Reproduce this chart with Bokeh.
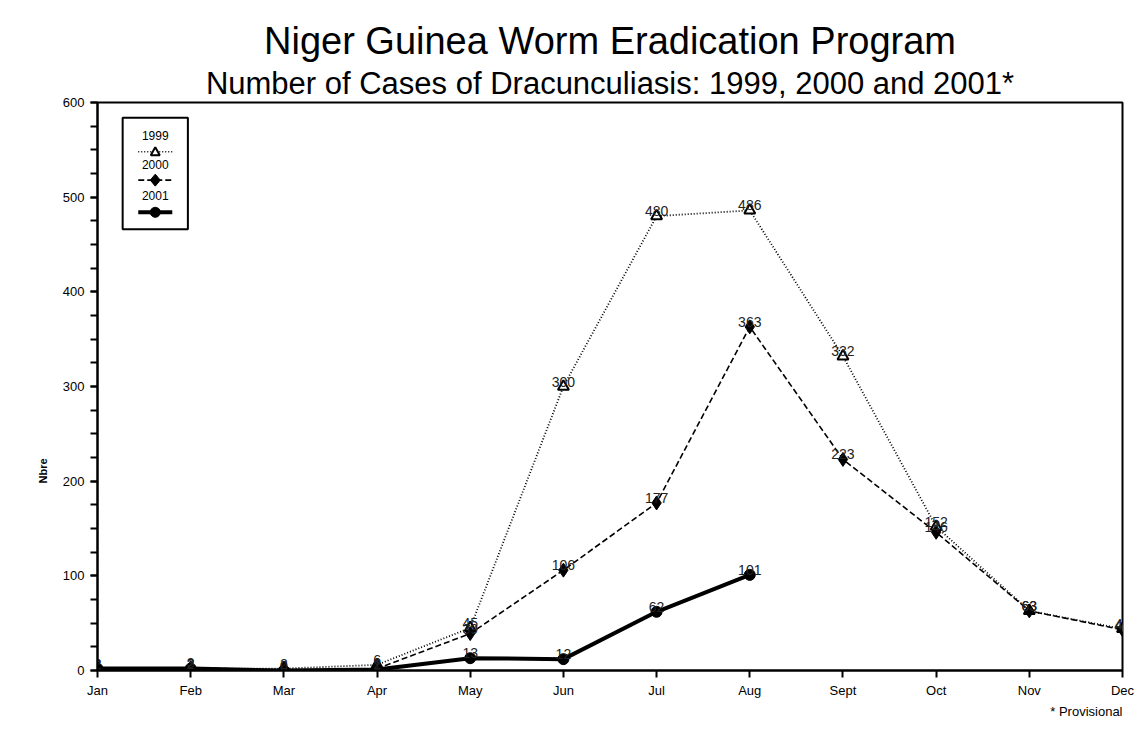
import math
from bokeh.plotting import figure
from bokeh.models import (Range1d, FixedTicker, SingleIntervalTicker, Title, Label,
                          BoxAnnotation, Arrow, PolyAnnotation)
from bokeh.core.properties import value
from bokeh.embed import file_html
from bokeh.resources import INLINE

months = ["Jan", "Feb", "Mar", "Apr", "May", "Jun", "Jul", "Aug", "Sept", "Oct", "Nov", "Dec"]
cases_1999 = [2, 2, 2, 6, 45, 300, 480, 486, 332, 152, 63, 44]
cases_2000 = [2, 3, 0, 2, 39, 106, 177, 363, 223, 146, 63, 43]
cases_2001 = [2, 2, 0, 1, 13, 12, 62, 101]
y_ticks = [0, 100, 200, 300, 400, 500, 600]

FONT = "Liberation Sans"
xs = list(range(len(months)))

p = figure(width=1136, height=720, output_backend="svg", toolbar_location=None,
           x_range=Range1d(0, len(months) - 1), y_range=Range1d(0, 600),
           min_border_left=97, min_border_right=14, min_border_top=102, min_border_bottom=50)
p.title = None
p.grid.visible = False
p.background_fill_color = "white"
p.outline_line_color = "black"
p.outline_line_width = 2

# axes
p.xaxis.ticker = FixedTicker(ticks=xs)
p.xaxis.major_label_overrides = {i: m for i, m in enumerate(months)}
p.xaxis.minor_tick_line_color = None
p.yaxis.ticker = SingleIntervalTicker(interval=100, num_minor_ticks=4)
for ax in (p.xaxis, p.yaxis):
    ax.axis_line_color = "black"
    ax.axis_line_width = 2
    ax.major_tick_line_width = 2
    ax.major_tick_out = 7
    ax.major_tick_in = 0
    ax.major_label_text_font = FONT
    ax.major_label_text_font_size = "13px"
    ax.major_label_text_color = "black"
p.yaxis.minor_tick_line_width = 2
p.yaxis.minor_tick_out = 7
p.yaxis.minor_tick_in = 0
p.xaxis.major_label_standoff = 5
p.yaxis.major_label_standoff = 6

# y-axis title, placed lower than centre as in the original
p.add_layout(Title(text="Nbre", align="left", offset=187, text_font=FONT, text_font_size="11px",
                   text_font_style="bold", text_color="black", standoff=22), "left")

# titles
p.add_layout(Title(text="Number of Cases of Dracunculiasis: 1999, 2000 and 2001*", align="center",
                   text_font=FONT, text_font_size="31px", text_font_style="normal",
                   text_color="black", standoff=4), "above")
p.add_layout(Title(text="Niger Guinea Worm Eradication Program", align="center",
                   text_font=FONT, text_font_size="38px", text_font_style="normal",
                   text_color="black", standoff=0), "above")
p.add_layout(Title(text="* Provisional", align="right", text_font=FONT, text_font_size="13px",
                   text_font_style="normal", text_color="black", standoff=2), "below")

# series
x01 = xs[:len(cases_2001)]
p.line(xs, cases_1999, line_color="black", line_width=1.8, line_dash="1 2")
p.line(xs, cases_2000, line_color="black", line_width=1.6, line_dash="6 3")
p.line(x01, cases_2001, line_color="black", line_width=4)

p.scatter(xs, cases_1999, marker="triangle", size=11, fill_color="white",
          line_color="black", line_width=2)
p.scatter(xs, cases_2000, marker="diamond", size=14, fill_color="black", line_color="black")
p.scatter(x01, cases_2001, marker="circle", size=11, fill_color="black", line_color="black")

for xv, yv in ((xs, cases_1999), (xs, cases_2000), (x01, cases_2001)):
    p.text(xv, yv, text=[str(v) for v in yv], text_align="center", text_baseline="alphabetic",
           y_offset=-5, text_font=value(FONT), text_font_size=value("14px"), text_color="#222222")

# custom legend (label above each line sample)
PX = 1 / 93.1   # data x per pixel
PY = 1 / 0.9467  # data y per pixel
lx0, lx1, ly0, ly1 = 0.27, 0.97, 466, 584
cx = (lx0 + lx1) / 2
p.add_layout(BoxAnnotation(left=lx0, right=lx1, bottom=ly0, top=ly1, fill_color=None,
                           line_color="black", line_width=2, line_alpha=1))
entries = [("1999", 565, 548, "1 2", 1.5), ("2000", 535, 518, "6 3", 1.6), ("2001", 502, 484, "solid", 4)]
for name, ty, ly, dash, lw in entries:
    p.add_layout(Label(x=cx, y=ty, text=name, text_align="center", text_baseline="middle",
                       text_font=FONT, text_font_size="12px", text_color="black"))
    p.add_layout(Arrow(x_start=cx - 17 * PX, y_start=ly, x_end=cx + 17 * PX, y_end=ly, end=None,
                       line_color="black", line_width=lw, line_dash=dash))
# legend markers
p.add_layout(PolyAnnotation(xs=[cx - 4.5 * PX, cx + 4.5 * PX, cx], ys=[548 - 3.5 * PY, 548 - 3.5 * PY, 548 + 4.5 * PY],
                            fill_color="white", fill_alpha=1, line_color="black", line_width=2, line_alpha=1))
p.add_layout(PolyAnnotation(xs=[cx - 5 * PX, cx, cx + 5 * PX, cx], ys=[518, 518 + 6 * PY, 518, 518 - 6 * PY],
                            fill_color="black", fill_alpha=1, line_color="black", line_width=1, line_alpha=1))
n = 20
p.add_layout(PolyAnnotation(xs=[cx + 5 * PX * math.cos(2 * math.pi * k / n) for k in range(n)],
                            ys=[484 + 5 * PY * math.sin(2 * math.pi * k / n) for k in range(n)],
                            fill_color="black", fill_alpha=1, line_color="black", line_width=1, line_alpha=1))

open("out.html", "w").write(file_html(p, INLINE))
